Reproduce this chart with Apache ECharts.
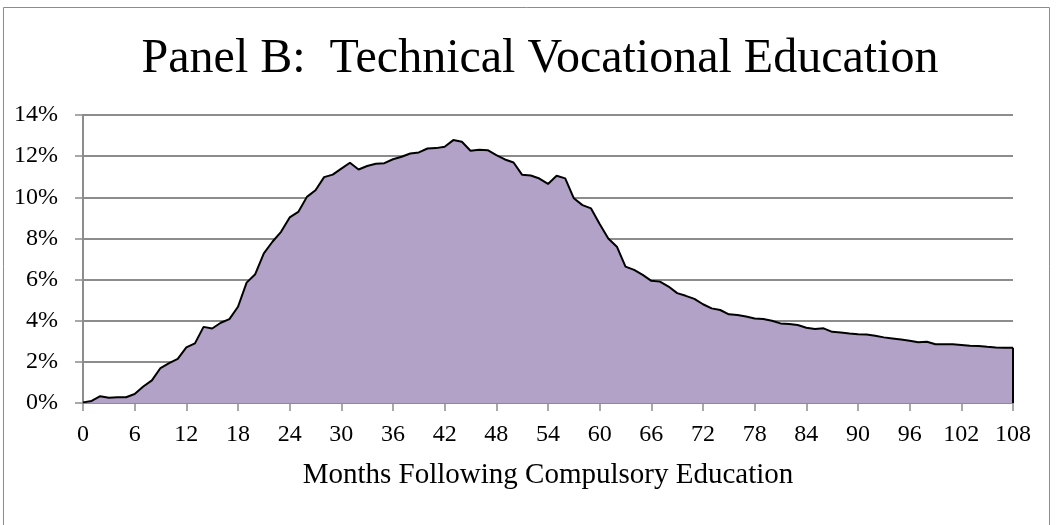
<!DOCTYPE html>
<html>
<head>
<meta charset="utf-8">
<title>Panel B: Technical Vocational Education</title>
<script src="https://cdn.jsdelivr.net/npm/echarts@6/dist/echarts.min.js"></script>
<style>
  html, body { margin: 0; padding: 0; background: #ffffff; }
  #chart { width: 1058px; height: 525px; }
</style>
</head>
<body>
<div id="chart"></div>
<script>
const TITLE = "Panel B:  Technical Vocational Education";
const X_NAME = "Months Following Compulsory Education";

// months 0..108 after compulsory education
const months = Array.from({ length: 109 }, (_, i) => i);

// share in technical vocational education, percent
const shares = [
  0.03, 0.10, 0.33, 0.25, 0.28, 0.28, 0.44, 0.80, 1.10, 1.70,
  1.94, 2.15, 2.70, 2.90, 3.70, 3.62, 3.90, 4.08, 4.68, 5.85,
  6.26, 7.27, 7.84, 8.32, 9.02, 9.29, 10.02, 10.34, 10.98, 11.10,
  11.39, 11.68, 11.35, 11.52, 11.63, 11.66, 11.85, 11.97, 12.13, 12.18,
  12.37, 12.39, 12.46, 12.78, 12.70, 12.26, 12.31, 12.29, 12.05, 11.84,
  11.69, 11.09, 11.06, 10.91, 10.65, 11.05, 10.92, 9.95, 9.62, 9.46,
  8.70, 8.00, 7.60, 6.63, 6.47, 6.23, 5.94, 5.90, 5.66, 5.34,
  5.21, 5.06, 4.80, 4.60, 4.52, 4.31, 4.28, 4.20, 4.11, 4.08,
  4.00, 3.87, 3.84, 3.79, 3.66, 3.60, 3.63, 3.46, 3.43, 3.38,
  3.34, 3.33, 3.27, 3.19, 3.14, 3.09, 3.03, 2.95, 2.98, 2.86,
  2.85, 2.85, 2.82, 2.78, 2.77, 2.73, 2.70, 2.69, 2.69
];

const Y_MIN = 0;
const Y_MAX = 14;
const Y_STEP = 2;

const FONT = '"Liberation Serif", "Times New Roman", serif';
const GRID_COLOR = "#8c8c8c";
const FILL_COLOR = "#b3a2c7";

const chart = echarts.init(document.getElementById("chart"), null, { renderer: "canvas" });

chart.setOption({
  backgroundColor: "#ffffff",
  animation: false,
  textStyle: { fontFamily: FONT, color: "#000000" },
  graphic: [
    {
      type: "rect",
      shape: { x: 3.5, y: 7.5, width: 1046, height: 530 },
      style: { fill: "none", stroke: "#8c8c8c", lineWidth: 1 },
      silent: true,
    },
  ],
  title: {
    text: TITLE,
    left: 535,
    top: 30,
    textAlign: "center",
    textStyle: {
      fontFamily: FONT,
      fontSize: 48,
      fontWeight: "normal",
      color: "#000000",
    },
  },
  grid: {
    left: 83,
    right: 45,
    top: 115,
    bottom: 122,
    containLabel: false,
  },
  xAxis: {
    type: "category",
    data: months,
    boundaryGap: false,
    name: X_NAME,
    nameLocation: "middle",
    nameGap: 58,
    nameTextStyle: { fontFamily: FONT, fontSize: 29, color: "#000000" },
    axisLine: { lineStyle: { color: GRID_COLOR, width: 2 } },
    axisTick: {
      show: true,
      interval: 5,
      length: 8,
      lineStyle: { color: GRID_COLOR, width: 1.5 },
    },
    axisLabel: {
      interval: 5,
      margin: 20,
      fontFamily: FONT,
      fontSize: 24,
      color: "#000000",
    },
    splitLine: { show: false },
  },
  yAxis: {
    type: "value",
    min: Y_MIN,
    max: Y_MAX,
    interval: Y_STEP,
    axisLine: { show: true, lineStyle: { color: GRID_COLOR, width: 2 } },
    axisTick: { show: true, length: 8, lineStyle: { color: GRID_COLOR, width: 1.5 } },
    axisLabel: {
      margin: 25,
      fontFamily: FONT,
      fontSize: 24,
      color: "#000000",
      formatter: (v) => `${v}%`,
    },
    splitLine: { lineStyle: { color: GRID_COLOR, width: 2 } },
  },
  series: [
    {
      name: "Technical vocational education",
      type: "line",
      data: shares,
      symbol: "none",
      smooth: false,
      lineStyle: { color: "#000000", width: 2 },
      areaStyle: { color: FILL_COLOR, opacity: 1 },
      z: 3,
      markLine: {
        silent: true,
        symbol: "none",
        label: { show: false },
        lineStyle: { color: "#000000", width: 2, type: "solid" },
        data: [
          [
            { coord: [months.length - 1, 0] },
            { coord: [months.length - 1, shares[shares.length - 1]] },
          ],
        ],
      },
    },
  ],
});
</script>
</body>
</html>
